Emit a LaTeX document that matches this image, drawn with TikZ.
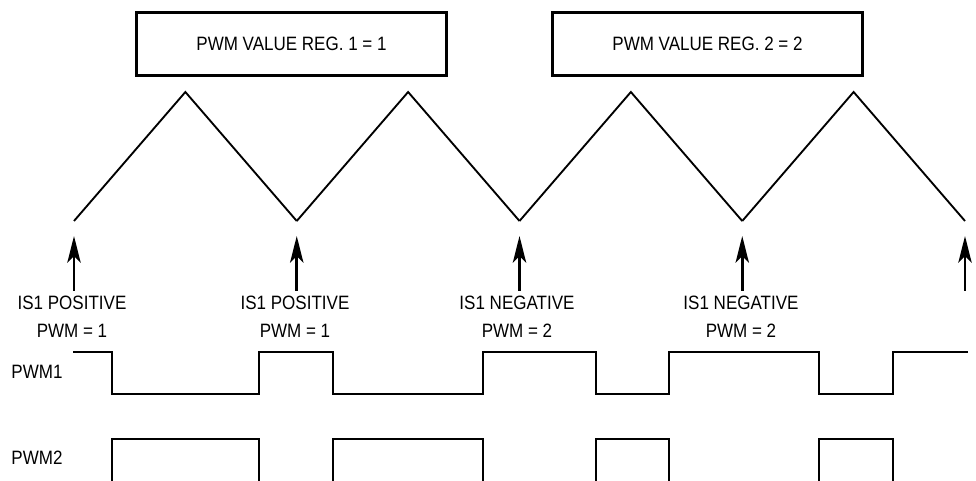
\documentclass[tikz,border=0pt]{standalone}
\usepackage{fontspec}
\setmainfont[FakeStretch=0.88]{Liberation Sans}
\usetikzlibrary{arrows.meta}

\begin{document}
\begin{tikzpicture}[x=0.75pt,y=-0.75pt,
  lbl/.style={font=\fontsize{14.5}{21}\selectfont, align=center, inner sep=0pt},
  regbox/.style={draw, line width=2.2pt, font=\fontsize{14.5}{21}\selectfont,
    minimum width=232.5pt, minimum height=47.5pt, inner sep=0pt},
  carrier/.style={line width=1.4pt, line join=miter},
  wave/.style={line width=2.2pt, line join=miter},
  sample/.style={line width=2.2pt, -{Stealth[length=20pt,width=10pt,inset=5pt]}}]

\useasboundingbox (0,0) rectangle (976,481);

\def\xo{74}
\def\per{222.75}

% register boxes
\node[regbox] (reg1) at (291.5,44) {PWM VALUE REG. 1 = 1};
\node[regbox] (reg2) at (707.5,44) {PWM VALUE REG. 2 = 2};

% triangle carrier
\foreach \i in {0,...,3} {
  \draw[carrier] (\xo+\per*\i,221) -- ++(0.5*\per,-129) -- ++(0.5*\per,129);
}

% sample arrows
\foreach \i in {0,...,4} {
  \coordinate (tail\i) at (\xo+\per*\i,291);
  \coordinate (tip\i) at (\xo+\per*\i,236);
  \draw[sample] (tail\i) -- (tip\i);
}

\node[lbl] (smp1) at (72,317) {IS1 POSITIVE\\PWM = 1};
\node[lbl] (smp2) at (295,317) {IS1 POSITIVE\\PWM = 1};
\node[lbl] (smp3) at (517,317) {IS1 NEGATIVE\\PWM = 2};
\node[lbl] (smp4) at (741,317) {IS1 NEGATIVE\\PWM = 2};

% outputs
\node[lbl] (pwm1) at (37,372) {PWM1};
\node[lbl] (pwm2) at (37,458) {PWM2};

\draw[wave] (73,352) -- (112,352) -- (112,394) -- (259,394) -- (259,352)
  -- (333,352) -- (333,394) -- (483,394) -- (483,352) -- (596,352)
  -- (596,394) -- (669,394) -- (669,352) -- (819,352) -- (819,394)
  -- (893,394) -- (893,352) -- (968,352);

\foreach \a/\b in {112/259,333/483,596/669,819/893} {
  \draw[wave] (\a,481) -- (\a,439) -- (\b,439) -- (\b,481);
}

\end{tikzpicture}
\end{document}
